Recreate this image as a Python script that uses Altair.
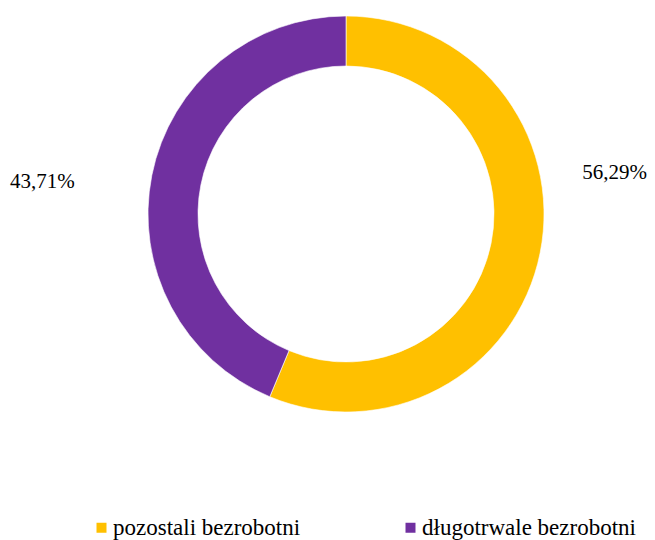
import altair as alt
import pandas as pd

categories = ["pozostali bezrobotni", "długotrwale bezrobotni"]
values = [56.29, 43.71]
labels = ["56,29%", "43,71%"]
order = [0, 1]
colors = ["#FFC000", "#7030A0"]

df = pd.DataFrame({"cat": categories, "val": values, "label": labels, "ord": order})

base = alt.Chart(df).encode(
    theta=alt.Theta("val:Q", stack=True),
    order=alt.Order("ord:Q"),
)

arc = base.mark_arc(radius=198, radius2=148, stroke="#ffffff", strokeWidth=0.6).encode(
    color=alt.Color(
        "cat:N",
        scale=alt.Scale(domain=categories, range=colors),
        sort=categories,
        legend=alt.Legend(
            title=None,
            orient="none",
            legendX=45,
            legendY=508,
            direction="horizontal",
            columns=2,
            columnPadding=98,
            symbolType="square",
            symbolSize=100,
            symbolStrokeWidth=0,
            labelOffset=0,
            padding=0,
            labelLimit=400,
        ),
    )
)

txt_common = dict(radius=280, font="Liberation Serif", fontSize=21, color="#000000",
                  align="center", baseline="middle")

t1 = base.mark_text(dx=-6, dy=-96, **txt_common).encode(
    text="label:N", opacity=alt.condition("datum.ord == 0", alt.value(1), alt.value(0))
)
t2 = base.mark_text(dx=-29, dy=23, **txt_common).encode(
    text="label:N", opacity=alt.condition("datum.ord == 1", alt.value(1), alt.value(0))
)

chart = alt.layer(arc, t1, t2).properties(
    width=602,
    height=412,
    padding={"left": 37, "top": 0, "right": 0, "bottom": 120},
    autosize=alt.AutoSizeParams(type="none"),
).configure_view(stroke=None).configure_legend(
    labelFont="Liberation Serif",
    labelFontSize=23,
    labelColor="#000000",
)

chart.save("out.html", embed_options={"renderer": "svg", "actions": False})
